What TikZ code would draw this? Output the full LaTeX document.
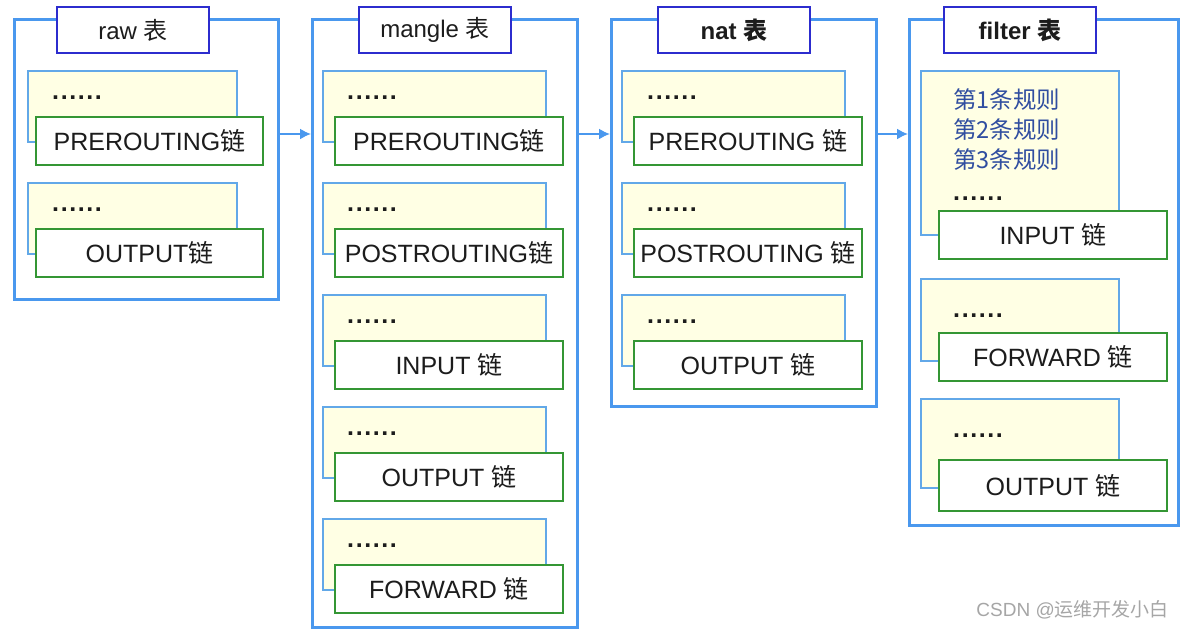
\documentclass[tikz,border=0pt]{standalone}
\usepackage{fontspec}
\setmainfont{Liberation Sans}
\newfontfamily\cjk{Noto Sans CJK SC}
\usepackage{tikz}
\usetikzlibrary{positioning,arrows.meta}
\definecolor{TblBlue}{RGB}{74,152,238}
\definecolor{TtlBlue}{RGB}{44,44,206}
\definecolor{RuleLine}{RGB}{98,168,232}
\definecolor{RuleFill}{RGB}{255,255,228}
\definecolor{ChainGreen}{RGB}{52,150,52}
\definecolor{RuleInk}{RGB}{48,78,160}
\definecolor{TxtInk}{RGB}{28,28,28}
\newcommand{\lian}{{\cjk 链}}
\newcommand{\biao}{{\cjk 表}}
\newcommand{\dotrow}{.\kern1.6pt.\kern1.6pt.\kern1.6pt.\kern1.6pt.\kern1.6pt.}

\begin{document}
\begin{tikzpicture}[x=1pt,y=-1pt,
  tbl/.style={draw=TblBlue,line width=2.6pt,fill=white,anchor=north west,inner sep=0},
  ttl/.style={draw=TtlBlue,line width=2pt,fill=white,anchor=north west,minimum width=152,minimum height=46,inner sep=0,font=\fontsize{24}{28}\selectfont,text=TxtInk},
  rules/.style={draw=RuleLine,line width=1.8pt,fill=RuleFill,anchor=north west,inner sep=0},
  chain/.style={draw=ChainGreen,line width=2pt,fill=white,anchor=north west,minimum width=228,minimum height=48,inner sep=0,font=\fontsize{25}{29}\selectfont,text=TxtInk},
  dots/.style={anchor=west,inner sep=0,font=\fontsize{25}{28}\selectfont\bfseries,text=TxtInk},
  arr/.style={-{Latex[length=11pt,width=11pt]},line width=1.8pt,draw=TblBlue}]
  \useasboundingbox (0,0) rectangle (1182,629);
  \fill[white] (0,0) rectangle (1182,629);
  % tables
  \node[tbl,minimum width=264,minimum height=280] (raw) at (13,18) {};
  \node[tbl,minimum width=265,minimum height=608] (mangle) at (311,18) {};
  \node[tbl,minimum width=265,minimum height=387] (nat) at (610,18) {};
  \node[tbl,minimum width=269,minimum height=506] (filter) at (908,18) {};
  \node[ttl] (rawt) at (56,6) {raw \biao};
  \node[ttl] (manglet) at (358,6) {mangle \biao};
  \node[ttl,font=\fontsize{24}{28}\selectfont\bfseries] (natt) at (657,6) {nat \biao};
  \node[ttl,font=\fontsize{24}{28}\selectfont\bfseries] (filtert) at (943,6) {filter \biao};
  % raw chains
  \foreach \i/\y/\lbl in {1/70/{PREROUTING\lian},2/182/{OUTPUT\lian}}{
    \node[rules,minimum width=209,minimum height=71] (rawr\i) at (27,\y) {};
    \node[dots] at ([xshift=25,yshift=-28]rawr\i.north west) {\dotrow};
    \node[chain,minimum width=227] (rawc\i) at (35,{\y+46}) {\lbl};
  }
  % mangle chains
  \foreach \i/\y/\lbl in {1/70/{PREROUTING\lian},2/182/{POSTROUTING\lian},3/294/{INPUT \lian},4/406/{OUTPUT \lian},5/518/{FORWARD \lian}}{
    \node[rules,minimum width=223,minimum height=71] (mangler\i) at (322,\y) {};
    \node[dots] at ([xshift=25,yshift=-28]mangler\i.north west) {\dotrow};
    \node[chain] (manglec\i) at (334,{\y+46}) {\lbl};
  }
  % nat chains
  \foreach \i/\y/\lbl in {1/70/{PREROUTING \lian},2/182/{POSTROUTING \lian},3/294/{OUTPUT \lian}}{
    \node[rules,minimum width=223,minimum height=71] (natr\i) at (621,\y) {};
    \node[dots] at ([xshift=26,yshift=-28]natr\i.north west) {\dotrow};
    \node[chain] (natc\i) at (633,{\y+46}) {\lbl};
  }
  % filter chains
  \node[rules,minimum width=198,minimum height=164] (filterr1) at (920,70) {};
  \node[anchor=north west,inner sep=0,align=left,text=RuleInk,font=\cjk\fontsize{23.5}{30}\selectfont] (filterrl) at (953,88) {第1条规则\\第2条规则\\第3条规则};
  \node[dots] at (953,199) {\dotrow};
  \node[chain] (filterc1) at (938,210) {INPUT \lian};
  \node[rules,minimum width=198,minimum height=82] (filterr2) at (920,278) {};
  \node[dots] at (953,316) {\dotrow};
  \node[chain] (filterc2) at (938,332) {FORWARD \lian};
  \node[rules,minimum width=198,minimum height=89] (filterr3) at (920,398) {};
  \node[dots] at (953,436) {\dotrow};
  \node[chain,minimum height=51] (filterc3) at (938,459) {OUTPUT \lian};
  % flow between tables
  \coordinate (lvl) at (0,134);
  \draw[arr] (raw.east |- lvl) -- (mangle.west |- lvl);
  \draw[arr] (mangle.east |- lvl) -- (nat.west |- lvl);
  \draw[arr] (nat.east |- lvl) -- (filter.west |- lvl);
  \node[text=black!35,font=\fontsize{19}{21}\selectfont,anchor=east,inner sep=0] (mark) at (1169,610) {CSDN @{\cjk 运维开发小白}};
\end{tikzpicture}
\end{document}
